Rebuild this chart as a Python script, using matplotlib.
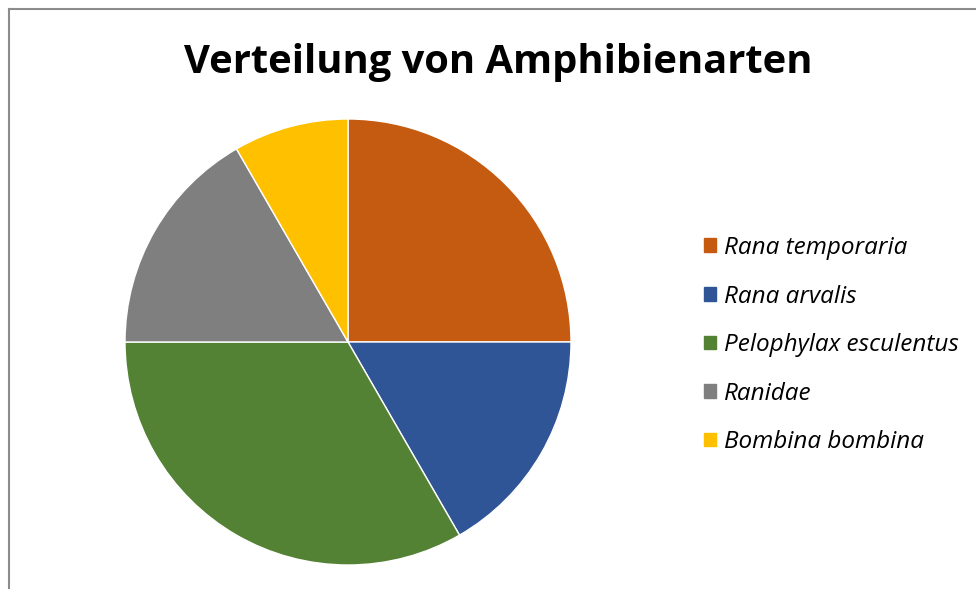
import matplotlib
matplotlib.use("Agg")
import matplotlib.pyplot as plt
from matplotlib.patches import Patch
from matplotlib.lines import Line2D

species = ["Rana temporaria", "Rana arvalis", "Pelophylax esculentus", "Ranidae", "Bombina bombina"]
counts = [3, 2, 4, 2, 1]
colors = ["#C55A11", "#2F5597", "#548235", "#7F7F7F", "#FFC000"]
title = "Verteilung von Amphibienarten"

W, H = 976, 589
fig = plt.figure(figsize=(W / 100, H / 100), dpi=100)
fig.patch.set_facecolor("white")

# chart-area frame (top and left edges)
fig.add_artist(Line2D([8.5 / W, 8.5 / W], [0, 1 - 8.5 / H], transform=fig.transFigure,
                      color="#8C8C8C", lw=1.5))
fig.add_artist(Line2D([8.5 / W, 1], [1 - 8.5 / H, 1 - 8.5 / H], transform=fig.transFigure,
                      color="#8C8C8C", lw=1.5))

cx, cy, r = 348, 342, 223
ax = fig.add_axes([(cx - r) / W, (H - cy - r) / H, 2 * r / W, 2 * r / H])
wedges, _ = ax.pie(counts, colors=colors, startangle=90, counterclock=False,
                   wedgeprops=dict(edgecolor="white", linewidth=1.0))
ax.set_xlim(-1, 1)
ax.set_ylim(-1, 1)
ax.set_aspect("equal")
ax.axis("off")

fig.text(498 / W, 1 - 62 / H, title, ha="center", va="center",
         fontsize=28.7, fontweight="bold", family="Open Sans", color="black")

handles = [Patch(facecolor=c, edgecolor=c) for c in colors]
leg = fig.legend(handles, species, loc="upper left",
                 bbox_to_anchor=(704 / W, 1 - 236 / H), frameon=False,
                 prop=dict(family="Open Sans", style="italic", size=17.5),
                 handlelength=0.5, handleheight=0.5, handletextpad=0.33,
                 labelspacing=1.01, borderpad=0, borderaxespad=0)

fig.savefig("out.png", dpi=100)
